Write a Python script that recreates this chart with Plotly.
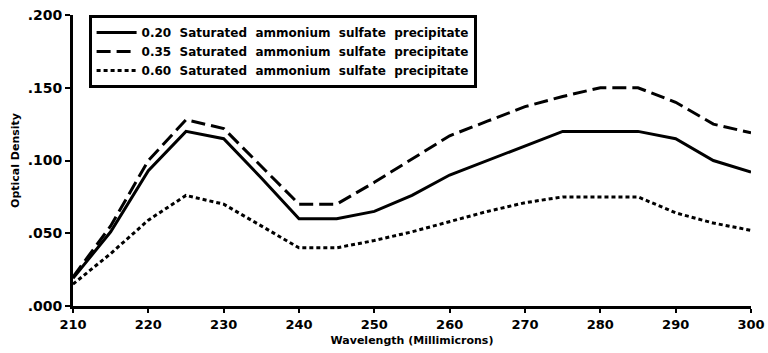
import plotly.graph_objects as go

wavelength = [210, 215, 220, 225, 230, 235, 240, 245, 250, 255, 260, 265, 270, 275, 280, 285, 290, 295, 300]
od_020 = [0.019, 0.051, 0.093, 0.120, 0.115, 0.088, 0.060, 0.060, 0.065, 0.076, 0.090, 0.100, 0.110, 0.120, 0.120, 0.120, 0.115, 0.100, 0.092]
od_035 = [0.020, 0.055, 0.100, 0.128, 0.122, 0.096, 0.070, 0.070, 0.085, 0.101, 0.117, 0.127, 0.137, 0.144, 0.150, 0.150, 0.140, 0.125, 0.119]
od_060 = [0.015, 0.036, 0.059, 0.076, 0.070, 0.055, 0.040, 0.040, 0.045, 0.051, 0.058, 0.065, 0.071, 0.075, 0.075, 0.075, 0.064, 0.057, 0.052]

series_names = [
    "0.20  Saturated  ammonium  sulfate  precipitate",
    "0.35  Saturated  ammonium  sulfate  precipitate",
    "0.60  Saturated  ammonium  sulfate  precipitate",
]
x_ticks = [210, 220, 230, 240, 250, 260, 270, 280, 290, 300]
y_ticks = [0.0, 0.05, 0.10, 0.15, 0.20]
y_tick_labels = [".000", ".050", ".100", ".150", ".200"]

FONT = "DejaVu Sans"

fig = go.Figure()
styles = ["solid", "14px,6px", "4px,3px"]
for name, ys, dash in zip(series_names, [od_020, od_035, od_060], styles):
    fig.add_trace(go.Scatter(
        x=wavelength, y=ys, mode="lines", name=name,
        line=dict(color="black", width=3, dash=dash),
    ))

fig.update_layout(
    width=768, height=353,
    margin=dict(l=73, r=17, t=15, b=47, autoexpand=False),
    paper_bgcolor="white", plot_bgcolor="white",
    font=dict(family=FONT, color="black", weight="bold"),
    legend=dict(
        x=0.023, y=1.0, xanchor="left", yanchor="top",
        bordercolor="black", borderwidth=3, bgcolor="white",
        font=dict(family=FONT, size=12, color="black", weight="bold"),
        tracegroupgap=0, itemwidth=40,
    ),
    showlegend=True,
)
fig.update_xaxes(
    range=[210, 300], tickvals=x_ticks, ticktext=[str(v) for v in x_ticks],
    showline=True, linecolor="black", linewidth=3, mirror=False,
    ticks="outside", ticklen=4, tickwidth=2, tickcolor="black",
    showgrid=False, zeroline=False, automargin=False, ticklabeloverflow="allow",
    tickfont=dict(family=FONT, size=13, color="black", weight="bold"),
    title=dict(text="Wavelength (Millimicrons)", standoff=6,
               font=dict(family=FONT, size=11, color="black", weight="bold")),
)
fig.update_yaxes(
    range=[0, 0.2], tickvals=y_ticks, ticktext=y_tick_labels,
    showline=True, linecolor="black", linewidth=3, mirror=False,
    ticks="outside", ticklen=5, tickwidth=2, tickcolor="black",
    showgrid=False, zeroline=False, automargin=False, ticklabeloverflow="allow",
    tickfont=dict(family=FONT, size=14, color="black", weight="bold"),
    title=dict(text="Optical Density", standoff=6,
               font=dict(family=FONT, size=11, color="black", weight="bold")),
)

fig.write_html(
    "out.html",
    config={"displayModeBar": False},
    post_script="document.body.style.margin='0';document.body.style.overflow='hidden';",
)
